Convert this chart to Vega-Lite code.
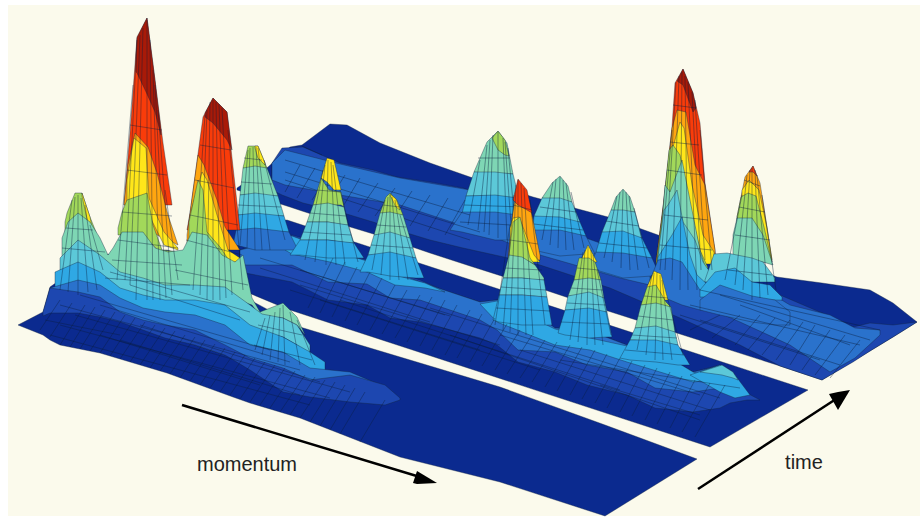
{"$schema":"https://vega.github.io/schema/vega-lite/v6.json","width":920,"height":518,"padding":0,"autosize":{"type":"fit","contains":"padding"},"background":"#ffffff","config":{"view":{"stroke":null}},
"encoding":{"x":{"field":"x","type":"quantitative","scale":{"domain":[0,920],"nice":false,"zero":false},"axis":null},"y":{"field":"y","type":"quantitative","scale":{"domain":[518,0],"nice":false,"zero":false},"axis":null}},
"layer":[
{"data":{"values":[{"x":8,"y":5,"y2":516},{"x":920,"y":5,"y2":516}]},"mark":{"type":"area","color":"#fbfaec"},"encoding":{"y2":{"field":"y2"}}},
{"data":{"values":[
{"s":"b0","l":0,"x":237,"y":188,"y2":190},{"s":"b0","l":0,"x":268,"y":167,"y2":200},{"s":"b0","l":0,"x":290,"y":147,"y2":207},{"s":"b0","l":0,"x":302,"y":145,"y2":211},{"s":"b0","l":0,"x":330,"y":124,"y2":220},{"s":"b0","l":0,"x":347,"y":125,"y2":226},{"s":"b0","l":0,"x":380,"y":143,"y2":236},{"s":"b0","l":0,"x":430,"y":163,"y2":253},{"s":"b0","l":0,"x":470,"y":177,"y2":266},{"s":"b0","l":0,"x":533,"y":197,"y2":286},{"s":"b0","l":0,"x":608,"y":217,"y2":311},{"s":"b0","l":0,"x":658,"y":235,"y2":327},{"s":"b0","l":0,"x":777,"y":277,"y2":365},{"s":"b0","l":0,"x":822,"y":283,"y2":380},{"s":"b0","l":0,"x":870,"y":290,"y2":351},{"s":"b0","l":0,"x":893,"y":303,"y2":337},{"s":"b0","l":0,"x":917,"y":322,"y2":322},
{"s":"b1","l":1,"x":272,"y":163,"y2":190},{"s":"b1","l":1,"x":282,"y":148,"y2":195},{"s":"b1","l":1,"x":303,"y":147,"y2":203},{"s":"b1","l":1,"x":340,"y":163,"y2":212},{"s":"b1","l":1,"x":373,"y":170,"y2":222},{"s":"b1","l":1,"x":397,"y":177,"y2":230},{"s":"b1","l":1,"x":430,"y":182,"y2":240},{"s":"b1","l":1,"x":463,"y":188,"y2":248},{"s":"b1","l":1,"x":540,"y":220,"y2":265},{"s":"b1","l":1,"x":610,"y":250,"y2":288},{"s":"b1","l":1,"x":680,"y":275,"y2":318},{"s":"b1","l":1,"x":740,"y":280,"y2":345},{"s":"b1","l":1,"x":780,"y":295,"y2":366},{"s":"b1","l":1,"x":822,"y":313,"y2":380},{"s":"b1","l":1,"x":853,"y":327,"y2":362},{"s":"b1","l":1,"x":870,"y":323,"y2":351},{"s":"b1","l":1,"x":893,"y":325,"y2":337},{"s":"b1","l":1,"x":917,"y":322,"y2":322},
{"s":"b2","l":2,"x":272,"y":163,"y2":180},{"s":"b2","l":2,"x":285,"y":150,"y2":185},{"s":"b2","l":2,"x":340,"y":164,"y2":195},{"s":"b2","l":2,"x":400,"y":178,"y2":205},{"s":"b2","l":2,"x":470,"y":190,"y2":228},{"s":"b2","l":2,"x":540,"y":222,"y2":255},{"s":"b2","l":2,"x":620,"y":250,"y2":278},{"s":"b2","l":2,"x":650,"y":265,"y2":285},
{"s":"b3","l":2,"x":680,"y":270,"y2":295},{"s":"b3","l":2,"x":740,"y":275,"y2":322},{"s":"b3","l":2,"x":790,"y":305,"y2":345},{"s":"b3","l":2,"x":830,"y":315,"y2":372},{"s":"b3","l":2,"x":855,"y":328,"y2":358},{"s":"b3","l":2,"x":880,"y":330,"y2":335},
{"s":"p1","l":5,"x":474,"y":172,"y2":172},{"s":"p1","l":5,"x":487,"y":142,"y2":174},{"s":"p1","l":5,"x":498,"y":131,"y2":174},{"s":"p1","l":5,"x":507,"y":143,"y2":174},{"s":"p1","l":5,"x":513,"y":174,"y2":174},
{"s":"p2","l":6,"x":492,"y":138,"y2":138},{"s":"p2","l":6,"x":498,"y":131,"y2":150},{"s":"p2","l":6,"x":505,"y":140,"y2":155},{"s":"p2","l":6,"x":509,"y":156,"y2":156},
{"s":"p3","l":4,"x":466,"y":196,"y2":196},{"s":"p3","l":4,"x":474,"y":172,"y2":196},{"s":"p3","l":4,"x":495,"y":172,"y2":196},{"s":"p3","l":4,"x":513,"y":174,"y2":198},{"s":"p3","l":4,"x":519,"y":198,"y2":198},
{"s":"p4","l":3,"x":462,"y":214,"y2":214},{"s":"p4","l":3,"x":466,"y":196,"y2":214},{"s":"p4","l":3,"x":495,"y":195,"y2":214},{"s":"p4","l":3,"x":519,"y":198,"y2":216},{"s":"p4","l":3,"x":526,"y":216,"y2":216},
{"s":"p5","l":2,"x":450,"y":230,"y2":230},{"s":"p5","l":2,"x":462,"y":212,"y2":232},{"s":"p5","l":2,"x":495,"y":212,"y2":240},{"s":"p5","l":2,"x":526,"y":216,"y2":240},{"s":"p5","l":2,"x":535,"y":240,"y2":240},
{"s":"q1","l":5,"x":542,"y":198,"y2":198},{"s":"q1","l":5,"x":552,"y":183,"y2":200},{"s":"q1","l":5,"x":560,"y":176,"y2":200},{"s":"q1","l":5,"x":568,"y":186,"y2":202},{"s":"q1","l":5,"x":572,"y":202,"y2":202},
{"s":"q2","l":4,"x":534,"y":216,"y2":216},{"s":"q2","l":4,"x":542,"y":198,"y2":218},{"s":"q2","l":4,"x":560,"y":198,"y2":220},{"s":"q2","l":4,"x":572,"y":202,"y2":222},{"s":"q2","l":4,"x":580,"y":222,"y2":222},
{"s":"q3","l":3,"x":533,"y":230,"y2":230},{"s":"q3","l":3,"x":534,"y":216,"y2":232},{"s":"q3","l":3,"x":560,"y":217,"y2":234},{"s":"q3","l":3,"x":580,"y":222,"y2":236},{"s":"q3","l":3,"x":586,"y":236,"y2":236},
{"s":"q4","l":2,"x":530,"y":246,"y2":246},{"s":"q4","l":2,"x":533,"y":230,"y2":250},{"s":"q4","l":2,"x":560,"y":230,"y2":256},{"s":"q4","l":2,"x":586,"y":236,"y2":254},{"s":"q4","l":2,"x":595,"y":254,"y2":254},
{"s":"r1","l":5,"x":611,"y":210,"y2":210},{"s":"r1","l":5,"x":616,"y":197,"y2":212},{"s":"r1","l":5,"x":623,"y":189,"y2":212},{"s":"r1","l":5,"x":630,"y":197,"y2":212},{"s":"r1","l":5,"x":635,"y":212,"y2":212},
{"s":"r2","l":4,"x":602,"y":232,"y2":232},{"s":"r2","l":4,"x":611,"y":210,"y2":234},{"s":"r2","l":4,"x":623,"y":210,"y2":236},{"s":"r2","l":4,"x":635,"y":212,"y2":238},{"s":"r2","l":4,"x":642,"y":238,"y2":238},
{"s":"r3","l":3,"x":596,"y":252,"y2":252},{"s":"r3","l":3,"x":602,"y":232,"y2":254},{"s":"r3","l":3,"x":623,"y":231,"y2":256},{"s":"r3","l":3,"x":642,"y":238,"y2":258},{"s":"r3","l":3,"x":652,"y":258,"y2":258},
{"s":"r4","l":2,"x":590,"y":265,"y2":265},{"s":"r4","l":2,"x":596,"y":252,"y2":270},{"s":"r4","l":2,"x":623,"y":253,"y2":278},{"s":"r4","l":2,"x":652,"y":258,"y2":276},{"s":"r4","l":2,"x":660,"y":276,"y2":276},
{"s":"t1","l":9,"x":656,"y":262,"y2":262},{"s":"t1","l":9,"x":663,"y":207,"y2":262},{"s":"t1","l":9,"x":672,"y":127,"y2":262},{"s":"t1","l":9,"x":675,"y":83,"y2":262},{"s":"t1","l":9,"x":683,"y":69,"y2":262},{"s":"t1","l":9,"x":693,"y":93,"y2":262},{"s":"t1","l":9,"x":700,"y":123,"y2":262},{"s":"t1","l":9,"x":705,"y":183,"y2":262},{"s":"t1","l":9,"x":715,"y":250,"y2":262},{"s":"t1","l":9,"x":716,"y":262,"y2":262},
{"s":"t2","l":10,"x":677,"y":81,"y2":81},{"s":"t2","l":10,"x":683,"y":69,"y2":85},{"s":"t2","l":10,"x":693,"y":93,"y2":112},{"s":"t2","l":10,"x":696,"y":108,"y2":108},
{"s":"t3","l":8,"x":656,"y":262,"y2":262},{"s":"t3","l":8,"x":664,"y":200,"y2":262},{"s":"t3","l":8,"x":672,"y":128,"y2":262},{"s":"t3","l":8,"x":677,"y":110,"y2":262},{"s":"t3","l":8,"x":686,"y":112,"y2":262},{"s":"t3","l":8,"x":695,"y":165,"y2":262},{"s":"t3","l":8,"x":705,"y":185,"y2":262},{"s":"t3","l":8,"x":715,"y":250,"y2":262},
{"s":"t4","l":7,"x":656,"y":264,"y2":264},{"s":"t4","l":7,"x":664,"y":205,"y2":264},{"s":"t4","l":7,"x":668,"y":165,"y2":264},{"s":"t4","l":7,"x":680,"y":122,"y2":264},{"s":"t4","l":7,"x":684,"y":128,"y2":264},{"s":"t4","l":7,"x":692,"y":185,"y2":264},{"s":"t4","l":7,"x":703,"y":235,"y2":264},{"s":"t4","l":7,"x":714,"y":252,"y2":264},
{"s":"t5","l":6,"x":656,"y":268,"y2":268},{"s":"t5","l":6,"x":663,"y":210,"y2":268},{"s":"t5","l":6,"x":669,"y":150,"y2":268},{"s":"t5","l":6,"x":673,"y":145,"y2":268},{"s":"t5","l":6,"x":680,"y":155,"y2":268},{"s":"t5","l":6,"x":692,"y":215,"y2":268},{"s":"t5","l":6,"x":700,"y":250,"y2":268},{"s":"t5","l":6,"x":708,"y":268,"y2":268},
{"s":"t6","l":5,"x":656,"y":275,"y2":275},{"s":"t6","l":5,"x":662,"y":225,"y2":275},{"s":"t6","l":5,"x":665,"y":185,"y2":275},{"s":"t6","l":5,"x":670,"y":192,"y2":275},{"s":"t6","l":5,"x":682,"y":160,"y2":275},{"s":"t6","l":5,"x":690,"y":200,"y2":275},{"s":"t6","l":5,"x":700,"y":250,"y2":275},{"s":"t6","l":5,"x":706,"y":270,"y2":275},
{"s":"t7","l":4,"x":655,"y":282,"y2":282},{"s":"t7","l":4,"x":660,"y":240,"y2":282},{"s":"t7","l":4,"x":664,"y":210,"y2":282},{"s":"t7","l":4,"x":668,"y":205,"y2":282},{"s":"t7","l":4,"x":677,"y":190,"y2":282},{"s":"t7","l":4,"x":683,"y":222,"y2":282},{"s":"t7","l":4,"x":695,"y":240,"y2":282},{"s":"t7","l":4,"x":703,"y":262,"y2":282},{"s":"t7","l":4,"x":712,"y":275,"y2":282},
{"s":"t8","l":3,"x":653,"y":290,"y2":290},{"s":"t8","l":3,"x":658,"y":257,"y2":290},{"s":"t8","l":3,"x":672,"y":235,"y2":290},{"s":"t8","l":3,"x":682,"y":217,"y2":290},{"s":"t8","l":3,"x":690,"y":255,"y2":290},{"s":"t8","l":3,"x":697,"y":275,"y2":290},{"s":"t8","l":3,"x":708,"y":285,"y2":290},
{"s":"t9","l":2,"x":648,"y":285,"y2":285},{"s":"t9","l":2,"x":658,"y":260,"y2":295},{"s":"t9","l":2,"x":670,"y":258,"y2":300},{"s":"t9","l":2,"x":682,"y":262,"y2":305},{"s":"t9","l":2,"x":700,"y":290,"y2":310},{"s":"t9","l":2,"x":715,"y":310,"y2":310},
{"s":"u1","l":8,"x":737,"y":217,"y2":260},{"s":"u1","l":8,"x":745,"y":177,"y2":260},{"s":"u1","l":8,"x":753,"y":166,"y2":260},{"s":"u1","l":8,"x":760,"y":183,"y2":260},{"s":"u1","l":8,"x":767,"y":227,"y2":260},{"s":"u1","l":8,"x":772,"y":260,"y2":260},
{"s":"u2","l":9,"x":749,"y":172,"y2":172},{"s":"u2","l":9,"x":753,"y":166,"y2":172},{"s":"u2","l":9,"x":757,"y":176,"y2":176},
{"s":"u3","l":7,"x":742,"y":190,"y2":262},{"s":"u3","l":7,"x":749,"y":180,"y2":262},{"s":"u3","l":7,"x":759,"y":190,"y2":262},{"s":"u3","l":7,"x":767,"y":228,"y2":262},{"s":"u3","l":7,"x":772,"y":260,"y2":262},
{"s":"u4","l":6,"x":737,"y":217,"y2":262},{"s":"u4","l":6,"x":741,"y":197,"y2":262},{"s":"u4","l":6,"x":748,"y":193,"y2":262},{"s":"u4","l":6,"x":756,"y":196,"y2":262},{"s":"u4","l":6,"x":764,"y":227,"y2":262},{"s":"u4","l":6,"x":772,"y":262,"y2":262},
{"s":"u5","l":5,"x":733,"y":235,"y2":260},{"s":"u5","l":5,"x":737,"y":218,"y2":262},{"s":"u5","l":5,"x":752,"y":218,"y2":262},{"s":"u5","l":5,"x":763,"y":235,"y2":262},{"s":"u5","l":5,"x":773,"y":265,"y2":265},
{"s":"u6","l":4,"x":705,"y":280,"y2":282},{"s":"u6","l":4,"x":714,"y":254,"y2":282},{"s":"u6","l":4,"x":727,"y":253,"y2":282},{"s":"u6","l":4,"x":752,"y":258,"y2":282},{"s":"u6","l":4,"x":763,"y":262,"y2":282},{"s":"u6","l":4,"x":775,"y":278,"y2":282},
{"s":"u7","l":3,"x":700,"y":290,"y2":297},{"s":"u7","l":3,"x":715,"y":272,"y2":297},{"s":"u7","l":3,"x":735,"y":268,"y2":297},{"s":"u7","l":3,"x":752,"y":282,"y2":300},{"s":"u7","l":3,"x":770,"y":285,"y2":300},{"s":"u7","l":3,"x":782,"y":297,"y2":300},
{"s":"u8","l":2,"x":700,"y":300,"y2":310},{"s":"u8","l":2,"x":720,"y":285,"y2":315},{"s":"u8","l":2,"x":752,"y":296,"y2":322},{"s":"u8","l":2,"x":775,"y":300,"y2":325},{"s":"u8","l":2,"x":790,"y":312,"y2":325}
]},"mark":{"type":"area","stroke":"#14243c","strokeWidth":0.5,"strokeOpacity":0.75},"encoding":{"y2":{"field":"y2"},"detail":{"field":"s"},"color":{"field":"l","type":"nominal","legend":null,"scale":{"domain":[0,1,2,3,4,5,6,7,8,9,10],"range":["#0b2a8f","#1d47b0","#2a72cc","#2fa8e4","#5cc8d8","#7ed6b4","#a2d85a","#ffe61a","#ffa610","#f93c0a","#a81a08"]}}}},
{"data":{"values":[
{"x":487,"y":145,"x2":478,"y2":230},{"x":493,"y":135,"x2":489,"y2":235},{"x":498,"y":132,"x2":498,"y2":238},{"x":503,"y":138,"x2":507,"y2":240},{"x":508,"y":148,"x2":516,"y2":235},{"x":480,"y":160,"x2":468,"y2":225},{"x":490,"y":140,"x2":484,"y2":232},{"x":505,"y":142,"x2":512,"y2":238},{"x":478,"y":158,"x2":510,"y2":158},{"x":464,"y":205,"x2":523,"y2":207},{"x":460,"y":222,"x2":528,"y2":226},
{"x":553,"y":182,"x2":542,"y2":240},{"x":560,"y":177,"x2":558,"y2":248},{"x":566,"y":183,"x2":574,"y2":250},{"x":571,"y":192,"x2":584,"y2":248},{"x":556,"y":179,"x2":550,"y2":245},{"x":563,"y":180,"x2":566,"y2":250},{"x":540,"y":207,"x2":576,"y2":212},{"x":534,"y":224,"x2":583,"y2":230},
{"x":617,"y":196,"x2":604,"y2":258},{"x":623,"y":190,"x2":621,"y2":268},{"x":629,"y":196,"x2":638,"y2":270},{"x":634,"y":208,"x2":649,"y2":268},{"x":620,"y":192,"x2":612,"y2":262},{"x":626,"y":192,"x2":630,"y2":270},{"x":606,"y":221,"x2":639,"y2":226},{"x":599,"y":243,"x2":647,"y2":248},
{"x":676,"y":82,"x2":665,"y2":270},{"x":682,"y":72,"x2":680,"y2":290},{"x":688,"y":82,"x2":697,"y2":290},{"x":695,"y":100,"x2":705,"y2":260},{"x":700,"y":130,"x2":712,"y2":270},{"x":672,"y":130,"x2":660,"y2":270},{"x":679,"y":76,"x2":672,"y2":280},{"x":685,"y":76,"x2":688,"y2":290},{"x":692,"y":92,"x2":701,"y2":270},{"x":667,"y":170,"x2":702,"y2":175},{"x":664,"y":215,"x2":708,"y2":220},{"x":660,"y":245,"x2":712,"y2":250},{"x":673,"y":105,"x2":696,"y2":108},{"x":670,"y":142,"x2":699,"y2":145},
{"x":747,"y":175,"x2":735,"y2":285},{"x":752,"y":168,"x2":752,"y2":300},{"x":757,"y":175,"x2":768,"y2":295},{"x":762,"y":195,"x2":776,"y2":290},{"x":742,"y":195,"x2":725,"y2":280},{"x":750,"y":170,"x2":743,"y2":290},{"x":755,"y":170,"x2":760,"y2":298},{"x":744,"y":180,"x2":760,"y2":186},{"x":739,"y":207,"x2":765,"y2":212},{"x":735,"y":235,"x2":770,"y2":240},{"x":728,"y":270,"x2":772,"y2":275},
{"x":300,"y":165,"x2":285,"y2":192},{"x":330,"y":172,"x2":312,"y2":200},{"x":360,"y":178,"x2":342,"y2":208},{"x":395,"y":188,"x2":375,"y2":216},{"x":430,"y":195,"x2":410,"y2":226},{"x":465,"y":200,"x2":445,"y2":235},{"x":315,"y":168,"x2":297,"y2":198},{"x":345,"y":175,"x2":327,"y2":204},{"x":378,"y":183,"x2":358,"y2":212},{"x":412,"y":191,"x2":392,"y2":221},{"x":448,"y":198,"x2":428,"y2":231},
{"x":720,"y":315,"x2":690,"y2":330},{"x":760,"y":315,"x2":735,"y2":345},{"x":790,"y":320,"x2":762,"y2":355},{"x":815,"y":325,"x2":790,"y2":365},{"x":845,"y":335,"x2":815,"y2":375},{"x":740,"y":315,"x2":712,"y2":338},{"x":775,"y":318,"x2":748,"y2":350},{"x":803,"y":322,"x2":776,"y2":360},{"x":830,"y":330,"x2":802,"y2":370},{"x":860,"y":340,"x2":830,"y2":378},
{"x":285,"y":172,"x2":480,"y2":232},{"x":285,"y":160,"x2":470,"y2":215},{"x":285,"y":180,"x2":470,"y2":240},{"x":690,"y":305,"x2":860,"y2":345},{"x":700,"y":320,"x2":840,"y2":365},{"x":700,"y":290,"x2":880,"y2":330},{"x":680,"y":315,"x2":820,"y2":360},{"x":720,"y":295,"x2":870,"y2":340},{"x":740,"y":305,"x2":850,"y2":345},
{"x":302,"y":146,"x2":322,"y2":155}
]},"mark":{"type":"rule","color":"#0a1c3c","strokeWidth":0.6,"opacity":0.7},"encoding":{"x2":{"field":"x2"},"y2":{"field":"y2"}}},
{"data":{"values":[
{"s":"m0","l":0,"x":225,"y":225,"y2":283},{"s":"m0","l":0,"x":287,"y":220,"y2":309},{"s":"m0","l":0,"x":710,"y":358,"y2":447},{"s":"m0","l":0,"x":808,"y":390,"y2":390},
{"s":"m1","l":1,"x":240,"y":250,"y2":272},{"s":"m1","l":1,"x":292,"y":235,"y2":282},{"s":"m1","l":1,"x":328,"y":245,"y2":300},{"s":"m1","l":1,"x":367,"y":260,"y2":305},{"s":"m1","l":1,"x":390,"y":270,"y2":318},{"s":"m1","l":1,"x":420,"y":280,"y2":322},{"s":"m1","l":1,"x":443,"y":290,"y2":328},{"s":"m1","l":1,"x":480,"y":302,"y2":338},{"s":"m1","l":1,"x":497,"y":300,"y2":345},{"s":"m1","l":1,"x":518,"y":300,"y2":362},{"s":"m1","l":1,"x":555,"y":328,"y2":372},{"s":"m1","l":1,"x":587,"y":330,"y2":385},{"s":"m1","l":1,"x":627,"y":345,"y2":395},{"s":"m1","l":1,"x":655,"y":350,"y2":408},{"s":"m1","l":1,"x":693,"y":372,"y2":412},{"s":"m1","l":1,"x":720,"y":365,"y2":408},{"s":"m1","l":1,"x":730,"y":370,"y2":403},{"s":"m1","l":1,"x":747,"y":393,"y2":400},{"s":"m1","l":1,"x":760,"y":400,"y2":400},
{"s":"m2","l":2,"x":240,"y":250,"y2":265},{"s":"m2","l":2,"x":292,"y":237,"y2":265},{"s":"m2","l":2,"x":328,"y":245,"y2":282},{"s":"m2","l":2,"x":367,"y":262,"y2":284},{"s":"m2","l":2,"x":390,"y":270,"y2":298},{"s":"m2","l":2,"x":420,"y":282,"y2":300},{"s":"m2","l":2,"x":480,"y":302,"y2":320},{"s":"m2","l":2,"x":497,"y":300,"y2":330},{"s":"m2","l":2,"x":518,"y":300,"y2":350},{"s":"m2","l":2,"x":555,"y":328,"y2":352},{"s":"m2","l":2,"x":587,"y":330,"y2":365},{"s":"m2","l":2,"x":627,"y":345,"y2":372},{"s":"m2","l":2,"x":655,"y":350,"y2":388},{"s":"m2","l":2,"x":693,"y":372,"y2":392},{"s":"m2","l":2,"x":720,"y":366,"y2":388},{"s":"m2","l":2,"x":745,"y":390,"y2":395},
{"s":"n1","l":3,"x":285,"y":236,"y2":250},{"s":"n1","l":3,"x":292,"y":236,"y2":254},{"s":"n1","l":3,"x":330,"y":250,"y2":262},{"s":"n1","l":3,"x":367,"y":261,"y2":272},{"s":"n1","l":3,"x":395,"y":275,"y2":285},{"s":"n1","l":3,"x":425,"y":283,"y2":288},{"s":"n1","l":3,"x":445,"y":292,"y2":292},
{"s":"n2","l":3,"x":480,"y":304,"y2":304},{"s":"n2","l":3,"x":497,"y":301,"y2":322},{"s":"n2","l":3,"x":555,"y":329,"y2":345},{"s":"n2","l":3,"x":590,"y":338,"y2":350},{"s":"n2","l":3,"x":627,"y":346,"y2":362},{"s":"n2","l":3,"x":660,"y":352,"y2":372},{"s":"n2","l":3,"x":693,"y":372,"y2":382},{"s":"n2","l":3,"x":715,"y":380,"y2":380},
{"s":"m3","l":3,"x":690,"y":375,"y2":375},{"s":"m3","l":3,"x":720,"y":365,"y2":392},{"s":"m3","l":3,"x":735,"y":375,"y2":398},{"s":"m3","l":3,"x":750,"y":395,"y2":395},
{"s":"m4","l":4,"x":700,"y":372,"y2":372},{"s":"m4","l":4,"x":722,"y":365,"y2":375},{"s":"m4","l":4,"x":733,"y":372,"y2":378},{"s":"m4","l":4,"x":738,"y":380,"y2":380},
{"s":"c1","l":6,"x":243,"y":168,"y2":168},{"s":"c1","l":6,"x":248,"y":146,"y2":170},{"s":"c1","l":6,"x":258,"y":146,"y2":170},{"s":"c1","l":6,"x":267,"y":168,"y2":170},
{"s":"c2","l":7,"x":255,"y":146,"y2":148},{"s":"c2","l":7,"x":258,"y":146,"y2":158},{"s":"c2","l":7,"x":265,"y":163,"y2":165},
{"s":"c3","l":5,"x":240,"y":195,"y2":195},{"s":"c3","l":5,"x":243,"y":168,"y2":195},{"s":"c3","l":5,"x":255,"y":166,"y2":195},{"s":"c3","l":5,"x":267,"y":168,"y2":196},{"s":"c3","l":5,"x":278,"y":196,"y2":196},
{"s":"c4","l":4,"x":238,"y":215,"y2":215},{"s":"c4","l":4,"x":240,"y":195,"y2":215},{"s":"c4","l":4,"x":255,"y":193,"y2":215},{"s":"c4","l":4,"x":278,"y":196,"y2":216},{"s":"c4","l":4,"x":284,"y":216,"y2":216},
{"s":"c5","l":3,"x":236,"y":230,"y2":230},{"s":"c5","l":3,"x":238,"y":215,"y2":230},{"s":"c5","l":3,"x":255,"y":213,"y2":232},{"s":"c5","l":3,"x":284,"y":216,"y2":232},{"s":"c5","l":3,"x":289,"y":232,"y2":232},
{"s":"c6","l":2,"x":233,"y":245,"y2":245},{"s":"c6","l":2,"x":236,"y":230,"y2":245},{"s":"c6","l":2,"x":255,"y":228,"y2":250},{"s":"c6","l":2,"x":289,"y":232,"y2":250},{"s":"c6","l":2,"x":298,"y":250,"y2":250},
{"s":"d1","l":7,"x":321,"y":178,"y2":178},{"s":"d1","l":7,"x":327,"y":158,"y2":182},{"s":"d1","l":7,"x":334,"y":160,"y2":190},{"s":"d1","l":7,"x":341,"y":190,"y2":190},
{"s":"d2","l":6,"x":313,"y":205,"y2":205},{"s":"d2","l":6,"x":321,"y":178,"y2":205},{"s":"d2","l":6,"x":329,"y":190,"y2":205},{"s":"d2","l":6,"x":341,"y":192,"y2":205},{"s":"d2","l":6,"x":344,"y":207,"y2":207},
{"s":"d3","l":5,"x":307,"y":222,"y2":222},{"s":"d3","l":5,"x":313,"y":205,"y2":222},{"s":"d3","l":5,"x":328,"y":203,"y2":222},{"s":"d3","l":5,"x":344,"y":207,"y2":225},{"s":"d3","l":5,"x":348,"y":225,"y2":225},
{"s":"d4","l":4,"x":300,"y":240,"y2":240},{"s":"d4","l":4,"x":307,"y":222,"y2":240},{"s":"d4","l":4,"x":328,"y":222,"y2":240},{"s":"d4","l":4,"x":348,"y":225,"y2":243},{"s":"d4","l":4,"x":354,"y":243,"y2":243},
{"s":"d5","l":3,"x":290,"y":255,"y2":255},{"s":"d5","l":3,"x":300,"y":240,"y2":255},{"s":"d5","l":3,"x":328,"y":240,"y2":258},{"s":"d5","l":3,"x":354,"y":243,"y2":258},{"s":"d5","l":3,"x":364,"y":258,"y2":258},
{"s":"e1","l":6,"x":380,"y":213,"y2":213},{"s":"e1","l":6,"x":386,"y":197,"y2":215},{"s":"e1","l":6,"x":390,"y":193,"y2":215},{"s":"e1","l":6,"x":397,"y":200,"y2":215},{"s":"e1","l":6,"x":403,"y":215,"y2":215},
{"s":"e2","l":7,"x":390,"y":194,"y2":195},{"s":"e2","l":7,"x":396,"y":199,"y2":207},{"s":"e2","l":7,"x":400,"y":210,"y2":210},
{"s":"e3","l":5,"x":374,"y":235,"y2":235},{"s":"e3","l":5,"x":380,"y":213,"y2":235},{"s":"e3","l":5,"x":390,"y":212,"y2":235},{"s":"e3","l":5,"x":403,"y":215,"y2":238},{"s":"e3","l":5,"x":410,"y":238,"y2":238},
{"s":"e4","l":4,"x":368,"y":255,"y2":255},{"s":"e4","l":4,"x":374,"y":235,"y2":255},{"s":"e4","l":4,"x":390,"y":232,"y2":255},{"s":"e4","l":4,"x":410,"y":238,"y2":258},{"s":"e4","l":4,"x":416,"y":258,"y2":258},
{"s":"e5","l":3,"x":360,"y":272,"y2":272},{"s":"e5","l":3,"x":368,"y":255,"y2":272},{"s":"e5","l":3,"x":390,"y":252,"y2":276},{"s":"e5","l":3,"x":416,"y":258,"y2":278},{"s":"e5","l":3,"x":424,"y":278,"y2":278},
{"s":"f1","l":8,"x":508,"y":260,"y2":260},{"s":"f1","l":8,"x":511,"y":225,"y2":260},{"s":"f1","l":8,"x":516,"y":193,"y2":260},{"s":"f1","l":8,"x":524,"y":203,"y2":260},{"s":"f1","l":8,"x":531,"y":210,"y2":260},{"s":"f1","l":8,"x":540,"y":255,"y2":260},
{"s":"f2","l":9,"x":513,"y":200,"y2":200},{"s":"f2","l":9,"x":518,"y":179,"y2":205},{"s":"f2","l":9,"x":527,"y":190,"y2":210},{"s":"f2","l":9,"x":532,"y":213,"y2":213},
{"s":"f3","l":7,"x":510,"y":228,"y2":262},{"s":"f3","l":7,"x":513,"y":218,"y2":262},{"s":"f3","l":7,"x":519,"y":217,"y2":262},{"s":"f3","l":7,"x":534,"y":255,"y2":262},{"s":"f3","l":7,"x":540,"y":262,"y2":262},
{"s":"f4","l":6,"x":509,"y":255,"y2":262},{"s":"f4","l":6,"x":513,"y":222,"y2":262},{"s":"f4","l":6,"x":520,"y":217,"y2":262},{"s":"f4","l":6,"x":530,"y":258,"y2":262},{"s":"f4","l":6,"x":535,"y":265,"y2":265},
{"s":"f5","l":5,"x":503,"y":278,"y2":278},{"s":"f5","l":5,"x":509,"y":255,"y2":278},{"s":"f5","l":5,"x":522,"y":257,"y2":278},{"s":"f5","l":5,"x":535,"y":265,"y2":280},{"s":"f5","l":5,"x":544,"y":278,"y2":280},
{"s":"f6","l":4,"x":499,"y":295,"y2":295},{"s":"f6","l":4,"x":503,"y":278,"y2":295},{"s":"f6","l":4,"x":522,"y":278,"y2":295},{"s":"f6","l":4,"x":544,"y":280,"y2":297},{"s":"f6","l":4,"x":547,"y":297,"y2":297},
{"s":"f7","l":3,"x":493,"y":320,"y2":320},{"s":"f7","l":3,"x":499,"y":295,"y2":322},{"s":"f7","l":3,"x":522,"y":295,"y2":325},{"s":"f7","l":3,"x":547,"y":297,"y2":325},{"s":"f7","l":3,"x":552,"y":325,"y2":325},
{"s":"g1","l":7,"x":580,"y":262,"y2":262},{"s":"g1","l":7,"x":588,"y":245,"y2":262},{"s":"g1","l":7,"x":597,"y":262,"y2":262},
{"s":"g2","l":6,"x":574,"y":280,"y2":280},{"s":"g2","l":6,"x":579,"y":258,"y2":280},{"s":"g2","l":6,"x":589,"y":258,"y2":280},{"s":"g2","l":6,"x":595,"y":262,"y2":280},{"s":"g2","l":6,"x":601,"y":280,"y2":280},
{"s":"g3","l":5,"x":568,"y":296,"y2":296},{"s":"g3","l":5,"x":574,"y":280,"y2":296},{"s":"g3","l":5,"x":589,"y":278,"y2":296},{"s":"g3","l":5,"x":601,"y":280,"y2":298},{"s":"g3","l":5,"x":604,"y":298,"y2":298},
{"s":"g4","l":4,"x":565,"y":310,"y2":310},{"s":"g4","l":4,"x":568,"y":296,"y2":310},{"s":"g4","l":4,"x":589,"y":292,"y2":310},{"s":"g4","l":4,"x":604,"y":298,"y2":312},{"s":"g4","l":4,"x":607,"y":312,"y2":312},
{"s":"g5","l":3,"x":558,"y":333,"y2":333},{"s":"g5","l":3,"x":565,"y":310,"y2":335},{"s":"g5","l":3,"x":589,"y":308,"y2":338},{"s":"g5","l":3,"x":607,"y":312,"y2":337},{"s":"g5","l":3,"x":612,"y":337,"y2":337},
{"s":"h1","l":7,"x":647,"y":287,"y2":287},{"s":"h1","l":7,"x":654,"y":271,"y2":295},{"s":"h1","l":7,"x":661,"y":274,"y2":300},{"s":"h1","l":7,"x":668,"y":300,"y2":300},
{"s":"h2","l":6,"x":641,"y":305,"y2":305},{"s":"h2","l":6,"x":647,"y":287,"y2":305},{"s":"h2","l":6,"x":656,"y":285,"y2":305},{"s":"h2","l":6,"x":666,"y":302,"y2":307},{"s":"h2","l":6,"x":671,"y":307,"y2":307},
{"s":"h3","l":5,"x":635,"y":328,"y2":328},{"s":"h3","l":5,"x":641,"y":305,"y2":328},{"s":"h3","l":5,"x":656,"y":303,"y2":328},{"s":"h3","l":5,"x":671,"y":307,"y2":332},{"s":"h3","l":5,"x":675,"y":332,"y2":332},
{"s":"h4","l":4,"x":630,"y":340,"y2":340},{"s":"h4","l":4,"x":635,"y":328,"y2":340},{"s":"h4","l":4,"x":656,"y":326,"y2":342},{"s":"h4","l":4,"x":675,"y":332,"y2":345},{"s":"h4","l":4,"x":678,"y":345,"y2":345},
{"s":"h5","l":3,"x":620,"y":358,"y2":358},{"s":"h5","l":3,"x":630,"y":340,"y2":360},{"s":"h5","l":3,"x":656,"y":340,"y2":362},{"s":"h5","l":3,"x":678,"y":345,"y2":365},{"s":"h5","l":3,"x":690,"y":365,"y2":365}
]},"mark":{"type":"area","stroke":"#14243c","strokeWidth":0.5,"strokeOpacity":0.75},"encoding":{"y2":{"field":"y2"},"detail":{"field":"s"},"color":{"field":"l","type":"nominal","legend":null,"scale":{"domain":[0,1,2,3,4,5,6,7,8,9,10],"range":["#0b2a8f","#1d47b0","#2a72cc","#2fa8e4","#5cc8d8","#7ed6b4","#a2d85a","#ffe61a","#ffa610","#f93c0a","#a81a08"]}}}},
{"data":{"values":[
{"x":248,"y":150,"x2":240,"y2":245},{"x":253,"y":147,"x2":255,"y2":250},{"x":258,"y":148,"x2":270,"y2":250},{"x":264,"y":160,"x2":285,"y2":240},{"x":250,"y":148,"x2":247,"y2":248},{"x":256,"y":147,"x2":262,"y2":250},{"x":244,"y":158,"x2":262,"y2":160},{"x":241,"y":182,"x2":272,"y2":184},{"x":238,"y":205,"x2":281,"y2":207},
{"x":323,"y":170,"x2":305,"y2":260},{"x":328,"y":160,"x2":326,"y2":265},{"x":333,"y":165,"x2":345,"y2":265},{"x":340,"y":190,"x2":358,"y2":262},{"x":325,"y":165,"x2":315,"y2":262},{"x":331,"y":162,"x2":336,"y2":265},{"x":317,"y":190,"x2":340,"y2":192},{"x":310,"y":213,"x2":346,"y2":216},{"x":303,"y":232,"x2":351,"y2":235},
{"x":385,"y":200,"x2":372,"y2":270},{"x":390,"y":195,"x2":390,"y2":280},{"x":395,"y":200,"x2":408,"y2":280},{"x":400,"y":215,"x2":418,"y2":275},{"x":388,"y":197,"x2":381,"y2":275},{"x":392,"y":197,"x2":399,"y2":280},{"x":383,"y":205,"x2":400,"y2":207},{"x":377,"y":225,"x2":406,"y2":227},{"x":371,"y":245,"x2":413,"y2":248},
{"x":514,"y":195,"x2":503,"y2":330},{"x":518,"y":180,"x2":518,"y2":335},{"x":524,"y":188,"x2":533,"y2":335},{"x":530,"y":200,"x2":545,"y2":325},{"x":510,"y":225,"x2":495,"y2":325},{"x":516,"y":185,"x2":510,"y2":332},{"x":521,"y":183,"x2":526,"y2":335},{"x":513,"y":205,"x2":532,"y2":210},{"x":510,"y":240,"x2":538,"y2":244},{"x":505,"y":268,"x2":542,"y2":270},{"x":501,"y":287,"x2":546,"y2":290},{"x":496,"y":308,"x2":550,"y2":311},
{"x":583,"y":252,"x2":570,"y2":340},{"x":588,"y":247,"x2":587,"y2":345},{"x":593,"y":255,"x2":603,"y2":345},{"x":597,"y":270,"x2":611,"y2":335},{"x":585,"y":250,"x2":578,"y2":342},{"x":591,"y":250,"x2":595,"y2":345},{"x":577,"y":268,"x2":599,"y2":270},{"x":571,"y":288,"x2":603,"y2":290},{"x":567,"y":303,"x2":606,"y2":305},{"x":561,"y":322,"x2":610,"y2":324},
{"x":652,"y":275,"x2":637,"y2":350},{"x":657,"y":272,"x2":655,"y2":360},{"x":662,"y":280,"x2":672,"y2":360},{"x":668,"y":300,"x2":683,"y2":355},{"x":654,"y":273,"x2":646,"y2":355},{"x":660,"y":275,"x2":663,"y2":360},{"x":644,"y":296,"x2":668,"y2":298},{"x":638,"y":316,"x2":673,"y2":320},{"x":632,"y":335,"x2":677,"y2":338},{"x":625,"y":350,"x2":684,"y2":355},
{"x":320,"y":313,"x2":345,"y2":262},{"x":345,"y":321,"x2":370,"y2":272},{"x":370,"y":330,"x2":395,"y2":285},{"x":395,"y":338,"x2":420,"y2":295},{"x":420,"y":346,"x2":445,"y2":300},{"x":445,"y":355,"x2":470,"y2":310},{"x":470,"y":362,"x2":495,"y2":318},{"x":495,"y":370,"x2":520,"y2":330},{"x":520,"y":378,"x2":545,"y2":340},{"x":545,"y":387,"x2":570,"y2":345},{"x":570,"y":395,"x2":595,"y2":350},{"x":595,"y":403,"x2":620,"y2":358},{"x":620,"y":412,"x2":645,"y2":365},{"x":645,"y":420,"x2":670,"y2":372},{"x":670,"y":428,"x2":695,"y2":380},{"x":695,"y":437,"x2":725,"y2":385},
{"x":308,"y":308,"x2":333,"y2":258},{"x":332,"y":317,"x2":357,"y2":267},{"x":357,"y":325,"x2":382,"y2":278},{"x":382,"y":334,"x2":407,"y2":290},{"x":407,"y":342,"x2":432,"y2":297},{"x":432,"y":350,"x2":457,"y2":305},{"x":457,"y":358,"x2":482,"y2":314},{"x":482,"y":366,"x2":507,"y2":324},{"x":507,"y":374,"x2":532,"y2":335},{"x":532,"y":382,"x2":557,"y2":342},{"x":557,"y":391,"x2":582,"y2":347},{"x":582,"y":399,"x2":607,"y2":354},{"x":607,"y":408,"x2":632,"y2":361},{"x":632,"y":416,"x2":657,"y2":368},{"x":657,"y":424,"x2":682,"y2":376},{"x":682,"y":432,"x2":710,"y2":383},
{"x":260,"y":268,"x2":430,"y2":322},{"x":260,"y":258,"x2":450,"y2":316},{"x":290,"y":290,"x2":480,"y2":350},{"x":430,"y":308,"x2":720,"y2":398},{"x":450,"y":335,"x2":700,"y2":420},{"x":300,"y":270,"x2":445,"y2":315},{"x":560,"y":360,"x2":740,"y2":388},{"x":300,"y":285,"x2":500,"y2":345},{"x":320,"y":300,"x2":540,"y2":370},{"x":340,"y":300,"x2":620,"y2":390},{"x":500,"y":335,"x2":700,"y2":395},{"x":520,"y":350,"x2":710,"y2":410},{"x":600,"y":385,"x2":700,"y2":415}
]},"mark":{"type":"rule","color":"#0a1c3c","strokeWidth":0.6,"opacity":0.65},"encoding":{"x2":{"field":"x2"},"y2":{"field":"y2"}}},
{"data":{"values":[
{"s":"z0","l":0,"x":18,"y":325,"y2":325},{"s":"z0","l":0,"x":43,"y":312,"y2":335},{"s":"z0","l":0,"x":50,"y":287,"y2":340},{"s":"z0","l":0,"x":60,"y":280,"y2":345},{"s":"z0","l":0,"x":100,"y":255,"y2":353},{"s":"z0","l":0,"x":167,"y":250,"y2":373},{"s":"z0","l":0,"x":233,"y":270,"y2":397},{"s":"z0","l":0,"x":250,"y":300,"y2":403},{"s":"z0","l":0,"x":300,"y":327,"y2":418},{"s":"z0","l":0,"x":400,"y":357,"y2":457},{"s":"z0","l":0,"x":500,"y":387,"y2":482},{"s":"z0","l":0,"x":605,"y":425,"y2":516},{"s":"z0","l":0,"x":697,"y":459,"y2":459},
{"s":"x1","l":6,"x":65,"y":222,"y2":235},{"s":"x1","l":6,"x":67,"y":213,"y2":235},{"s":"x1","l":6,"x":75,"y":193,"y2":235},{"s":"x1","l":6,"x":82,"y":193,"y2":235},{"s":"x1","l":6,"x":90,"y":217,"y2":235},{"s":"x1","l":6,"x":96,"y":232,"y2":235},
{"s":"x2","l":7,"x":82,"y":193,"y2":196},{"s":"x2","l":7,"x":90,"y":217,"y2":233},{"s":"x2","l":7,"x":93,"y":233,"y2":233},
{"s":"v1","l":9,"x":124,"y":205,"y2":205},{"s":"v1","l":9,"x":130,"y":133,"y2":205},{"s":"v1","l":9,"x":137,"y":37,"y2":205},{"s":"v1","l":9,"x":147,"y":18,"y2":205},{"s":"v1","l":9,"x":163,"y":143,"y2":205},{"s":"v1","l":9,"x":172,"y":205,"y2":205},
{"s":"v2","l":10,"x":136,"y":55,"y2":72},{"s":"v2","l":10,"x":137,"y":38,"y2":73},{"s":"v2","l":10,"x":147,"y":18,"y2":94},{"s":"v2","l":10,"x":155,"y":80,"y2":112},{"s":"v2","l":10,"x":161,"y":132,"y2":135},
{"s":"v3","l":8,"x":124,"y":205,"y2":205},{"s":"v3","l":8,"x":128,"y":165,"y2":205},{"s":"v3","l":8,"x":135,"y":133,"y2":210},{"s":"v3","l":8,"x":148,"y":147,"y2":225},{"s":"v3","l":8,"x":157,"y":173,"y2":235},{"s":"v3","l":8,"x":168,"y":215,"y2":240},{"s":"v3","l":8,"x":178,"y":245,"y2":245},
{"s":"v4","l":7,"x":127,"y":180,"y2":205},{"s":"v4","l":7,"x":134,"y":138,"y2":205},{"s":"v4","l":7,"x":146,"y":148,"y2":205},{"s":"v4","l":7,"x":149,"y":198,"y2":215},{"s":"v4","l":7,"x":164,"y":232,"y2":245},{"s":"v4","l":7,"x":178,"y":248,"y2":250},
{"s":"v5","l":6,"x":118,"y":228,"y2":235},{"s":"v5","l":6,"x":122,"y":212,"y2":235},{"s":"v5","l":6,"x":127,"y":200,"y2":235},{"s":"v5","l":6,"x":147,"y":193,"y2":240},{"s":"v5","l":6,"x":153,"y":225,"y2":245},{"s":"v5","l":6,"x":162,"y":250,"y2":255},{"s":"v5","l":6,"x":180,"y":252,"y2":255},
{"s":"w1","l":9,"x":187,"y":230,"y2":230},{"s":"w1","l":9,"x":190,"y":213,"y2":230},{"s":"w1","l":9,"x":203,"y":117,"y2":230},{"s":"w1","l":9,"x":213,"y":98,"y2":230},{"s":"w1","l":9,"x":227,"y":112,"y2":230},{"s":"w1","l":9,"x":233,"y":167,"y2":230},{"s":"w1","l":9,"x":240,"y":230,"y2":230},
{"s":"w2","l":10,"x":205,"y":113,"y2":117},{"s":"w2","l":10,"x":213,"y":98,"y2":123},{"s":"w2","l":10,"x":227,"y":112,"y2":140},{"s":"w2","l":10,"x":232,"y":150,"y2":150},
{"s":"w3","l":8,"x":187,"y":235,"y2":250},{"s":"w3","l":8,"x":198,"y":155,"y2":250},{"s":"w3","l":8,"x":204,"y":165,"y2":250},{"s":"w3","l":8,"x":217,"y":200,"y2":250},{"s":"w3","l":8,"x":225,"y":227,"y2":250},{"s":"w3","l":8,"x":240,"y":250,"y2":250},
{"s":"w4","l":7,"x":190,"y":215,"y2":262},{"s":"w4","l":7,"x":202,"y":172,"y2":262},{"s":"w4","l":7,"x":207,"y":180,"y2":262},{"s":"w4","l":7,"x":217,"y":215,"y2":262},{"s":"w4","l":7,"x":228,"y":250,"y2":262},{"s":"w4","l":7,"x":243,"y":260,"y2":262},
{"s":"w5","l":6,"x":189,"y":222,"y2":270},{"s":"w5","l":6,"x":198,"y":180,"y2":270},{"s":"w5","l":6,"x":203,"y":190,"y2":270},{"s":"w5","l":6,"x":207,"y":232,"y2":270},{"s":"w5","l":6,"x":220,"y":247,"y2":270},{"s":"w5","l":6,"x":232,"y":265,"y2":270},
{"s":"y5","l":5,"x":62,"y":238,"y2":262},{"s":"y5","l":5,"x":68,"y":222,"y2":262},{"s":"y5","l":5,"x":78,"y":213,"y2":262},{"s":"y5","l":5,"x":90,"y":222,"y2":262},{"s":"y5","l":5,"x":100,"y":238,"y2":270},{"s":"y5","l":5,"x":108,"y":255,"y2":272},{"s":"y5","l":5,"x":113,"y":248,"y2":285},{"s":"y5","l":5,"x":122,"y":232,"y2":290},{"s":"y5","l":5,"x":143,"y":232,"y2":292},{"s":"y5","l":5,"x":155,"y":248,"y2":295},{"s":"y5","l":5,"x":168,"y":252,"y2":298},{"s":"y5","l":5,"x":183,"y":250,"y2":298},{"s":"y5","l":5,"x":192,"y":232,"y2":298},{"s":"y5","l":5,"x":207,"y":235,"y2":298},{"s":"y5","l":5,"x":222,"y":255,"y2":300},{"s":"y5","l":5,"x":235,"y":262,"y2":300},{"s":"y5","l":5,"x":243,"y":255,"y2":302},{"s":"y5","l":5,"x":252,"y":298,"y2":305},{"s":"y5","l":5,"x":260,"y":312,"y2":316},{"s":"y5","l":5,"x":283,"y":303,"y2":318},{"s":"y5","l":5,"x":297,"y":317,"y2":325},{"s":"y5","l":5,"x":305,"y":335,"y2":335},
{"s":"y4","l":4,"x":60,"y":258,"y2":270},{"s":"y4","l":4,"x":78,"y":240,"y2":275},{"s":"y4","l":4,"x":100,"y":255,"y2":285},{"s":"y4","l":4,"x":120,"y":272,"y2":300},{"s":"y4","l":4,"x":143,"y":278,"y2":310},{"s":"y4","l":4,"x":165,"y":285,"y2":315},{"s":"y4","l":4,"x":195,"y":285,"y2":315},{"s":"y4","l":4,"x":225,"y":287,"y2":320},{"s":"y4","l":4,"x":250,"y":305,"y2":327},{"s":"y4","l":4,"x":262,"y":314,"y2":332},{"s":"y4","l":4,"x":283,"y":318,"y2":337},{"s":"y4","l":4,"x":297,"y":325,"y2":345},{"s":"y4","l":4,"x":310,"y":345,"y2":355},
{"s":"y3","l":3,"x":55,"y":272,"y2":288},{"s":"y3","l":3,"x":78,"y":262,"y2":292},{"s":"y3","l":3,"x":100,"y":272,"y2":297},{"s":"y3","l":3,"x":120,"y":288,"y2":305},{"s":"y3","l":3,"x":143,"y":295,"y2":318},{"s":"y3","l":3,"x":165,"y":300,"y2":325},{"s":"y3","l":3,"x":195,"y":300,"y2":330},{"s":"y3","l":3,"x":225,"y":305,"y2":345},{"s":"y3","l":3,"x":250,"y":325,"y2":348},{"s":"y3","l":3,"x":283,"y":337,"y2":355},{"s":"y3","l":3,"x":310,"y":352,"y2":372},{"s":"y3","l":3,"x":325,"y":362,"y2":372},
{"s":"y2","l":2,"x":50,"y":288,"y2":300},{"s":"y2","l":2,"x":78,"y":280,"y2":300},{"s":"y2","l":2,"x":100,"y":285,"y2":310},{"s":"y2","l":2,"x":120,"y":298,"y2":318},{"s":"y2","l":2,"x":143,"y":308,"y2":328},{"s":"y2","l":2,"x":165,"y":312,"y2":335},{"s":"y2","l":2,"x":195,"y":315,"y2":345},{"s":"y2","l":2,"x":225,"y":325,"y2":355},{"s":"y2","l":2,"x":250,"y":345,"y2":365},{"s":"y2","l":2,"x":283,"y":352,"y2":375},{"s":"y2","l":2,"x":310,"y":368,"y2":385},{"s":"y2","l":2,"x":350,"y":372,"y2":390},{"s":"y2","l":2,"x":378,"y":384,"y2":390},
{"s":"y1","l":1,"x":43,"y":312,"y2":316},{"s":"y1","l":1,"x":50,"y":288,"y2":313},{"s":"y1","l":1,"x":78,"y":292,"y2":313},{"s":"y1","l":1,"x":100,"y":297,"y2":317},{"s":"y1","l":1,"x":120,"y":312,"y2":322},{"s":"y1","l":1,"x":143,"y":320,"y2":330},{"s":"y1","l":1,"x":165,"y":325,"y2":338},{"s":"y1","l":1,"x":195,"y":330,"y2":345},{"s":"y1","l":1,"x":225,"y":345,"y2":355},{"s":"y1","l":1,"x":250,"y":358,"y2":370},{"s":"y1","l":1,"x":283,"y":368,"y2":392},{"s":"y1","l":1,"x":310,"y":380,"y2":397},{"s":"y1","l":1,"x":350,"y":375,"y2":402},{"s":"y1","l":1,"x":385,"y":385,"y2":405},{"s":"y1","l":1,"x":400,"y":398,"y2":400}
]},"mark":{"type":"area","stroke":"#14243c","strokeWidth":0.5,"strokeOpacity":0.75},"encoding":{"y2":{"field":"y2"},"detail":{"field":"s"},"color":{"field":"l","type":"nominal","legend":null,"scale":{"domain":[0,1,2,3,4,5,6,7,8,9,10],"range":["#0b2a8f","#1d47b0","#2a72cc","#2fa8e4","#5cc8d8","#7ed6b4","#a2d85a","#ffe61a","#ffa610","#f93c0a","#a81a08"]}}}},
{"data":{"values":[
{"x":72,"y":200,"x2":60,"y2":290},{"x":78,"y":195,"x2":78,"y2":295},{"x":85,"y":205,"x2":97,"y2":290},{"x":90,"y":225,"x2":103,"y2":270},{"x":75,"y":197,"x2":68,"y2":292},{"x":81,"y":198,"x2":88,"y2":292},{"x":66,"y":228,"x2":93,"y2":230},{"x":62,"y":248,"x2":105,"y2":252},
{"x":137,"y":40,"x2":125,"y2":280},{"x":143,"y":28,"x2":136,"y2":300},{"x":147,"y":20,"x2":147,"y2":300},{"x":153,"y":70,"x2":160,"y2":300},{"x":158,"y":110,"x2":172,"y2":295},{"x":133,"y":85,"x2":117,"y2":280},{"x":165,"y":190,"x2":178,"y2":280},{"x":140,"y":35,"x2":130,"y2":285},{"x":150,"y":40,"x2":153,"y2":300},{"x":155,"y":85,"x2":166,"y2":298},{"x":130,"y":125,"x2":162,"y2":130},{"x":127,"y":170,"x2":167,"y2":175},{"x":122,"y":212,"x2":172,"y2":216},{"x":118,"y":240,"x2":178,"y2":248},{"x":112,"y":260,"x2":182,"y2":265},{"x":105,"y":278,"x2":190,"y2":285},
{"x":205,"y":115,"x2":193,"y2":290},{"x":210,"y":102,"x2":207,"y2":300},{"x":216,"y":102,"x2":220,"y2":300},{"x":222,"y":108,"x2":232,"y2":295},{"x":228,"y":130,"x2":243,"y2":290},{"x":207,"y":110,"x2":200,"y2":295},{"x":213,"y":100,"x2":213,"y2":300},{"x":219,"y":104,"x2":226,"y2":298},{"x":200,"y":145,"x2":231,"y2":150},{"x":195,"y":180,"x2":234,"y2":188},{"x":190,"y":215,"x2":238,"y2":225},{"x":186,"y":240,"x2":242,"y2":255},{"x":175,"y":270,"x2":248,"y2":285},
{"x":265,"y":318,"x2":255,"y2":350},{"x":275,"y":312,"x2":270,"y2":360},{"x":283,"y":305,"x2":285,"y2":365},{"x":290,"y":312,"x2":300,"y2":365},{"x":297,"y":320,"x2":315,"y2":365},{"x":270,"y":315,"x2":262,"y2":355},{"x":280,"y":308,"x2":278,"y2":362},{"x":258,"y":325,"x2":302,"y2":335},{"x":254,"y":345,"x2":312,"y2":360},
{"x":40,"y":330,"x2":60,"y2":300},{"x":60,"y":345,"x2":85,"y2":305},{"x":80,"y":349,"x2":105,"y2":310},{"x":100,"y":353,"x2":125,"y2":315},{"x":120,"y":359,"x2":145,"y2":322},{"x":140,"y":365,"x2":165,"y2":328},{"x":160,"y":371,"x2":185,"y2":335},{"x":180,"y":378,"x2":205,"y2":340},{"x":200,"y":385,"x2":225,"y2":348},{"x":220,"y":392,"x2":245,"y2":355},{"x":240,"y":399,"x2":265,"y2":362},{"x":260,"y":405,"x2":285,"y2":368},{"x":280,"y":412,"x2":305,"y2":375},{"x":300,"y":418,"x2":325,"y2":380},{"x":320,"y":426,"x2":345,"y2":385},{"x":340,"y":434,"x2":365,"y2":392},{"x":360,"y":442,"x2":385,"y2":400},
{"x":50,"y":337,"x2":72,"y2":303},{"x":70,"y":347,"x2":95,"y2":307},{"x":90,"y":351,"x2":115,"y2":312},{"x":110,"y":356,"x2":135,"y2":318},{"x":130,"y":362,"x2":155,"y2":325},{"x":150,"y":368,"x2":175,"y2":331},{"x":170,"y":374,"x2":195,"y2":337},{"x":190,"y":381,"x2":215,"y2":344},{"x":210,"y":388,"x2":235,"y2":352},{"x":230,"y":395,"x2":255,"y2":358},{"x":250,"y":402,"x2":275,"y2":365},{"x":270,"y":408,"x2":295,"y2":371},{"x":290,"y":415,"x2":315,"y2":377},{"x":310,"y":422,"x2":335,"y2":382},{"x":330,"y":430,"x2":355,"y2":388},
{"x":50,"y":335,"x2":310,"y2":405},{"x":60,"y":325,"x2":330,"y2":398},{"x":75,"y":315,"x2":350,"y2":392},{"x":60,"y":305,"x2":300,"y2":370},{"x":100,"y":335,"x2":260,"y2":385},{"x":45,"y":320,"x2":120,"y2":335},{"x":120,"y":340,"x2":300,"y2":395},{"x":140,"y":325,"x2":320,"y2":382},{"x":100,"y":305,"x2":290,"y2":362},{"x":80,"y":295,"x2":270,"y2":350},{"x":130,"y":285,"x2":240,"y2":320},{"x":110,"y":272,"x2":250,"y2":312}
]},"mark":{"type":"rule","color":"#0a1c3c","strokeWidth":0.6,"opacity":0.65},"encoding":{"x2":{"field":"x2"},"y2":{"field":"y2"}}},
{"data":{"values":[{"x":182,"y":405,"x2":420,"y2":477},{"x":698,"y":489,"x2":836,"y2":399}]},"mark":{"type":"rule","color":"#000000","strokeWidth":2.5},"encoding":{"x2":{"field":"x2"},"y2":{"field":"y2"}}},
{"data":{"values":[{"s":"a","x":413,"y":483,"y2":483},{"s":"a","x":417,"y":471,"y2":484},{"s":"a","x":437,"y":483,"y2":483},{"s":"b","x":829,"y":394,"y2":394},{"s":"b","x":838,"y":392,"y2":410},{"s":"b","x":850,"y":390,"y2":390}]},"mark":{"type":"area","color":"#000000"},"encoding":{"y2":{"field":"y2"},"detail":{"field":"s"}}},
{"data":{"values":[{"x":247,"y":465,"t":"momentum"},{"x":804,"y":463,"t":"time"}]},"mark":{"type":"text","font":"Liberation Sans","fontSize":20,"color":"#222222","align":"center","baseline":"middle"},"encoding":{"text":{"field":"t"}}}
]}
